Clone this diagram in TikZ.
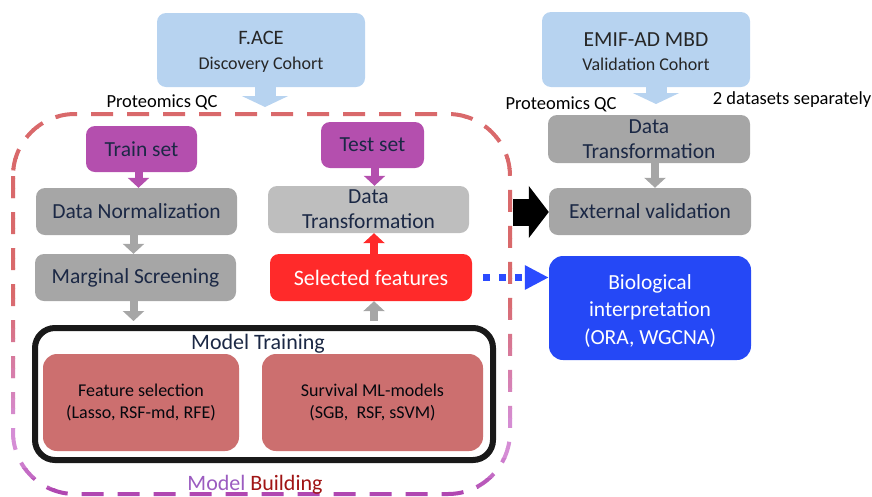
\documentclass[tikz,border=0pt]{standalone}
\usepackage{fontspec}
\setmainfont{Carlito}
\usetikzlibrary{arrows.meta}

\definecolor{cohortblue}{HTML}{B7D3F0}
\definecolor{setpurple}{HTML}{B44FAE}
\definecolor{stepgray}{HTML}{A6A6A6}
\definecolor{lightgray}{HTML}{BEBEBE}
\definecolor{selred}{HTML}{FF2A2A}
\definecolor{mlred}{HTML}{CC6F6F}
\definecolor{biblue}{HTML}{2548F6}
\definecolor{dotblue}{HTML}{2B4BFF}
\definecolor{navytext}{HTML}{1B2845}
\definecolor{bordred}{HTML}{D9696B}
\definecolor{bordpink}{HTML}{D58DD5}
\definecolor{borddark}{HTML}{A93AAA}
\definecolor{buildpurple}{HTML}{9B5CC0}
\definecolor{buildred}{HTML}{A01515}

\newcommand{\fsz}[1]{\fontsize{#1}{#1}\selectfont}

\tikzset{
  box/.style={rounded corners=9pt, inner sep=0pt, align=center, text=navytext},
  cohort/.style={box, fill=cohortblue, text=black!85},
  setbox/.style={box, fill=setpurple, font=\fsz{21.5}},
  graybox/.style={box, fill=stepgray, font=\fsz{21.5}},
  mlbox/.style={box, rounded corners=14pt, fill=mlred, font=\fontsize{18}{22}\selectfont, text=black!80!navytext},
  blockarrow/.style={line width=8pt, -{Triangle[width=21pt,length=10pt]}},
  bigarrow/.style={line width=21pt, -{Triangle[width=46pt,length=11pt]}, cohortblue},
  border/.style={line width=4pt, dash pattern=on 22pt off 14pt, rounded corners=62pt},
}

\begin{document}
\begin{tikzpicture}[x=1pt, y=-1pt]
\useasboundingbox (0,0) rectangle (872,496);

% dashed frame of the model-building stage, coloured in horizontal bands
\foreach \i in {0,...,40} {
  \pgfmathsetmacro\ya{98+10*\i}
  \pgfmathsetmacro\p{max(0,min(100,(420-\ya)/1.3))}
  \pgfmathsetmacro\q{max(0,min(100,(495-\ya)*2.2))}
  \colorlet{bandtmp}{bordred!\p!bordpink}
  \colorlet{bandcol}{bandtmp!\q!borddark}
  \begin{scope}
    \clip (0,\ya) rectangle (872,\ya+10);
    \draw[border, bandcol] (13,114) rectangle (510,494);
  \end{scope}
}

% cohorts
\node[cohort, minimum width=208pt, minimum height=74pt] (face) at (261,50) {};
\node[align=center, text=black!85] (facet) at (261,52)
  {\fsz{20.5}F.ACE\\[11pt]\fsz{18}Discovery Cohort};
\node[cohort, minimum width=208pt, minimum height=75pt] (emif) at (646,49.5) {};
\node[align=center, text=black!85] (emift) at (646,51.5)
  {\fsz{21.5}EMIF-AD MBD\\[11pt]\fsz{18}Validation Cohort};

\coordinate (qc1) at (265,107);
\coordinate (qc2) at (656,104);

\node[font=\fsz{18.5}] (qcl) at (162,102) {Proteomics QC};
\node[font=\fsz{18.5}] (qcr) at (561,104) {Proteomics QC};
\node[font=\fsz{18.5}] (sep) at (792,100) {2 datasets separately};

% discovery pipeline
\node[setbox, minimum width=111pt, minimum height=46pt] (train) at (141.5,149) {Train set};
\node[setbox, minimum width=103pt, minimum height=46pt] (test) at (372.5,145) {Test set};
\node[graybox, minimum width=201pt, minimum height=47pt] (norm) at (136.5,211.5) {Data Normalization};
\node[graybox, fill=lightgray, minimum width=201pt, minimum height=47pt, font=\fontsize{21.5}{25}\selectfont] (dtl) at (368.5,209.5) {Data\\Transformation};
\node[graybox, minimum width=201pt, minimum height=47pt] (marg) at (135.5,277.5) {Marginal Screening};
\node[graybox, fill=selred, text=white, minimum width=202pt, minimum height=47pt, font=\fsz{22}] (sel) at (371,277.5) {Selected features};

% model training block
\node[draw=black!90, line width=6pt, rounded corners=20pt, fill=white, minimum width=458pt, minimum height=132pt] (mt) at (264,394) {};
\node[font=\fsz{22}, text=navytext] (mtt) at (258,344) {Model Training};
\node[mlbox, minimum width=196pt, minimum height=97pt, yshift=-2pt] (fs) at (141,400.5) {Feature selection\\(Lasso, RSF-md, RFE)};
\node[mlbox, minimum width=221pt, minimum height=97pt, yshift=-2pt] (sv) at (372.5,400.5) {Survival ML-models\\(SGB,\ \ RSF, sSVM)};

\node[font=\fsz{22}] (build) at (255,485) {\textcolor{buildpurple}{Model} \textcolor{buildred}{Building}};

% validation pipeline
\node[graybox, minimum width=202pt, minimum height=48pt, font=\fontsize{21.5}{25}\selectfont] (dtr) at (649,139) {Data\\Transformation};
\node[graybox, minimum width=202pt, minimum height=47pt] (ext) at (650,211.5) {External validation};
\node[box, fill=biblue, minimum width=202pt, minimum height=104pt, rounded corners=14pt] (bio) at (650,308) {};
\node[align=center, text=white, font=\fontsize{21.5}{27.5}\selectfont] (biot) at (650,311) {Biological\\interpretation\\(ORA, WGCNA)};

% connectors
\draw[bigarrow] (face.south -| qc1) -- (qc1);
\draw[bigarrow] (emif.south -| qc2) -- (qc2);

\draw[blockarrow, setpurple] ([xshift=-3pt]train.south) -- ([xshift=-3pt]train.south |- norm.north);
\draw[blockarrow, setpurple] ([xshift=2pt]test.south) -- ([xshift=2pt]test.south |- dtl.north);
\draw[blockarrow, stepgray] ([xshift=-3pt]norm.south) -- ([xshift=-3pt]norm.south |- marg.north);
\draw[blockarrow, stepgray, shorten >=4pt] ([xshift=-2pt]marg.south) -- ([xshift=-2pt]marg.south |- mt.north);
\draw[blockarrow, stepgray, shorten <=4pt] ([xshift=3pt]sel.south |- mt.north) -- ([xshift=3pt]sel.south);
\draw[blockarrow, selred] ([xshift=3pt]sel.north) -- ([xshift=3pt]sel.north |- dtl.south);
\draw[blockarrow, stepgray] ([xshift=6pt]dtr.south) -- ([xshift=6pt]dtr.south |- ext.north);

\coordinate (extin) at (513,212);
\draw[line width=27pt, black, -{Triangle[width=51pt,length=20pt]}] (extin) -- (ext.west |- extin);

\draw[line width=7pt, dotblue, dash pattern=on 7pt off 9pt, -{Triangle[width=23pt,length=24pt]}]
  ([xshift=11pt]sel.east) -- (bio.west |- sel.east);
\end{tikzpicture}
\end{document}
